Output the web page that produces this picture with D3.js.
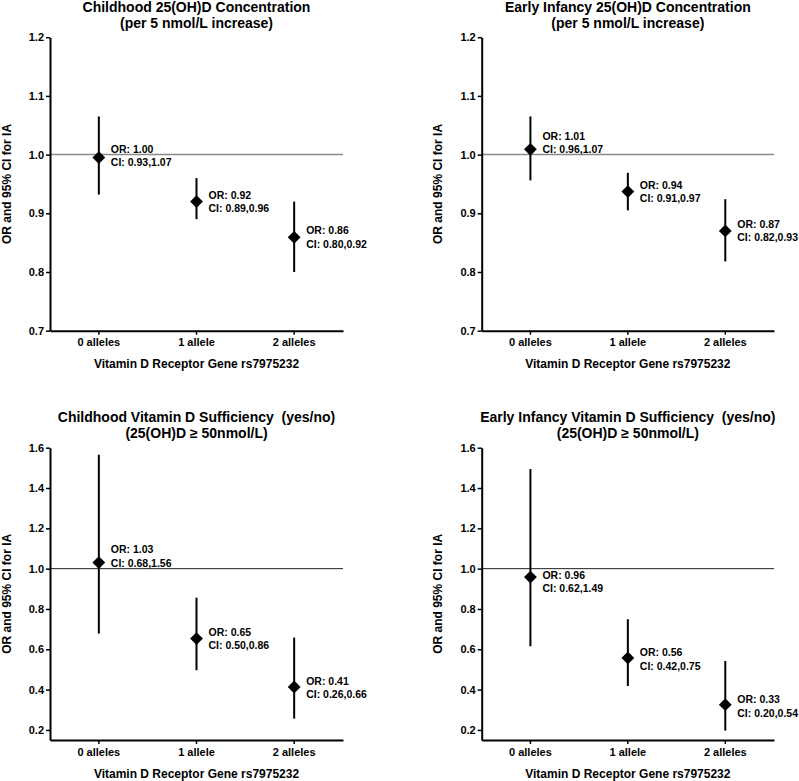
<!DOCTYPE html>
<html>
<head>
<meta charset="utf-8">
<script src="https://cdn.jsdelivr.net/npm/d3@7"></script>
<style>
  html, body { margin: 0; padding: 0; background: #fff; }
  svg { display: block; font-family: "Liberation Sans", Arial, sans-serif; }
</style>
</head>
<body>
<svg id="chart" width="799" height="781"></svg>
<script>
// ---------- data ----------
const categories = ["0 alleles", "1 allele", "2 alleles"];
const xAxisTitle = "Vitamin D Receptor Gene rs7975232";
const yAxisTitle = "OR and 95% CI for IA";

const titles = [
  ["Childhood 25(OH)D Concentration", "(per 5 nmol/L increase)"],
  ["Early Infancy 25(OH)D Concentration", "(per 5 nmol/L increase)"],
  ["Childhood Vitamin D Sufficiency  (yes/no)", "(25(OH)D \u2265 50nmol/L)"],
  ["Early Infancy Vitamin D Sufficiency  (yes/no)", "(25(OH)D \u2265 50nmol/L)"]
];

// point estimates and CI bounds as plotted
const orChildConc = [0.995, 0.920, 0.859];
const loChildConc = [0.932, 0.890, 0.800];
const hiChildConc = [1.065, 0.960, 0.920];

const orInfConc = [1.009, 0.937, 0.870];
const loInfConc = [0.956, 0.905, 0.818];
const hiInfConc = [1.065, 0.969, 0.924];

const orChildSuff = [1.030, 0.653, 0.413];
const loChildSuff = [0.678, 0.496, 0.256];
const hiChildSuff = [1.565, 0.856, 0.658];

const orInfSuff = [0.958, 0.557, 0.325];
const loInfSuff = [0.615, 0.418, 0.197];
const hiInfSuff = [1.494, 0.749, 0.542];

// annotation texts
const labelsChildConc = [["OR: 1.00", "CI: 0.93,1.07"], ["OR: 0.92", "CI: 0.89,0.96"], ["OR: 0.86", "CI: 0.80,0.92"]];
const labelsInfConc   = [["OR: 1.01", "CI: 0.96,1.07"], ["OR: 0.94", "CI: 0.91,0.97"], ["OR: 0.87", "CI: 0.82,0.93"]];
const labelsChildSuff = [["OR: 1.03", "CI: 0.68,1.56"], ["OR: 0.65", "CI: 0.50,0.86"], ["OR: 0.41", "CI: 0.26,0.66"]];
const labelsInfSuff   = [["OR: 0.96", "CI: 0.62,1.49"], ["OR: 0.56", "CI: 0.42,0.75"], ["OR: 0.33", "CI: 0.20,0.54"]];

// value at which each annotation block is centred
const labelAtChildConc = [0.998, 0.920, 0.859];
const labelAtInfConc   = [1.020, 0.937, 0.870];
const labelAtChildSuff = [1.061, 0.653, 0.410];
const labelAtInfSuff   = [0.935, 0.551, 0.318];

// y axis domains and ticks
const yDomainConc = [0.7, 1.2];
const yTicksConc = [0.7, 0.8, 0.9, 1.0, 1.1, 1.2];
const yDomainSuff = [0.15, 1.6];
const yTicksSuff = [0.2, 0.4, 0.6, 0.8, 1.0, 1.2, 1.4, 1.6];
const refValue = 1.0;

// ---------- layout ----------
const panels = [
  { x0: 50,    x1: 343, y0: 37.2,  y1: 330.7, title: titles[0], or: orChildConc, lo: loChildConc, hi: hiChildConc, labels: labelsChildConc, labelAt: labelAtChildConc, domain: yDomainConc, ticks: yTicksConc, refColor: "#8a8a8a", refWidth: 1.5 },
  { x0: 481.7, x1: 774, y0: 37.2,  y1: 330.7, title: titles[1], or: orInfConc,   lo: loInfConc,   hi: hiInfConc,   labels: labelsInfConc,   labelAt: labelAtInfConc,   domain: yDomainConc, ticks: yTicksConc, refColor: "#8a8a8a", refWidth: 1.5 },
  { x0: 50,    x1: 343, y0: 447.7, y1: 740,   title: titles[2], or: orChildSuff, lo: loChildSuff, hi: hiChildSuff, labels: labelsChildSuff, labelAt: labelAtChildSuff, domain: yDomainSuff, ticks: yTicksSuff, refColor: "#222", refWidth: 1 },
  { x0: 481.7, x1: 774, y0: 447.7, y1: 740,   title: titles[3], or: orInfSuff,   lo: loInfSuff,   hi: hiInfSuff,   labels: labelsInfSuff,   labelAt: labelAtInfSuff,   domain: yDomainSuff, ticks: yTicksSuff, refColor: "#222", refWidth: 1 }
];

const svg = d3.select("#chart");
const diamond = d3.symbol().type(d3.symbolSquare).size(82);

panels.forEach(p => {
  const g = svg.append("g");
  const x = d3.scaleBand().domain(categories).range([p.x0, p.x1]).padding(0);
  const y = d3.scaleLinear().domain(p.domain).range([p.y1, p.y0]);
  const cx = c => x(c) + x.bandwidth() / 2;

  // title
  const cxMid = (p.x0 + p.x1) / 2;
  const titleTop = p.y0 - 25.5;
  p.title.forEach((t, i) => {
    g.append("text")
      .attr("x", cxMid)
      .attr("y", titleTop + i * 16)
      .attr("text-anchor", "middle")
      .attr("font-size", "14px")
      .attr("font-weight", "bold")
      .attr("fill", "#000")
      .style("white-space", "pre")
      .text(t);
  });

  // reference line
  g.append("line")
    .attr("x1", p.x0).attr("x2", p.x1)
    .attr("y1", y(refValue)).attr("y2", y(refValue))
    .attr("stroke", p.refColor)
    .attr("stroke-width", p.refWidth);

  // y axis
  const yAxis = g.append("g")
    .attr("transform", `translate(${p.x0},0)`)
    .call(d3.axisLeft(y).tickValues(p.ticks).tickFormat(d3.format(".1f")).tickSize(4).tickPadding(2).tickSizeOuter(0));
  yAxis.select(".domain").attr("stroke", "#000").attr("stroke-width", 2);
  yAxis.selectAll(".tick line").attr("stroke", "#000").attr("stroke-width", 1.5);
  yAxis.selectAll(".tick text")
    .attr("font-size", "11px").attr("font-weight", "bold").attr("fill", "#000")
    .attr("font-family", "Liberation Sans, Arial, sans-serif");

  // x axis
  const xAxis = g.append("g")
    .attr("transform", `translate(0,${p.y1})`)
    .call(d3.axisBottom(x).tickSize(4).tickPadding(4).tickSizeOuter(0));
  xAxis.select(".domain").attr("stroke", "#000").attr("stroke-width", 2);
  xAxis.selectAll(".tick line").attr("stroke", "#000").attr("stroke-width", 1.5);
  xAxis.selectAll(".tick text")
    .attr("font-size", "11px").attr("font-weight", "bold").attr("fill", "#000")
    .attr("font-family", "Liberation Sans, Arial, sans-serif");

  // axis titles
  g.append("text")
    .attr("x", cxMid)
    .attr("y", p.y1 + 37.5)
    .attr("text-anchor", "middle")
    .attr("font-size", "12px")
    .attr("font-weight", "bold")
    .attr("fill", "#000")
    .text(xAxisTitle);

  g.append("text")
    .attr("transform", `translate(${p.x0 - 39.5},${(p.y0 + p.y1) / 2}) rotate(-90)`)
    .attr("text-anchor", "middle")
    .attr("font-size", "12px")
    .attr("font-weight", "bold")
    .attr("fill", "#000")
    .text(yAxisTitle);

  // whiskers
  g.selectAll(".ci")
    .data(categories)
    .join("line")
    .attr("x1", cx).attr("x2", cx)
    .attr("y1", (c, i) => y(p.lo[i]))
    .attr("y2", (c, i) => y(p.hi[i]))
    .attr("stroke", "#000")
    .attr("stroke-width", 2);

  // diamonds
  g.selectAll(".pt")
    .data(categories)
    .join("path")
    .attr("d", diamond)
    .attr("transform", (c, i) => `translate(${cx(c)},${y(p.or[i])}) rotate(45)`)
    .attr("fill", "#000");

  // annotations
  categories.forEach((c, i) => {
    const yc = y(p.labelAt[i]);
    p.labels[i].forEach((t, j) => {
      g.append("text")
        .attr("x", cx(c) + 12)
        .attr("y", yc + (j === 0 ? -6.7 : 6.7))
        .attr("dy", "0.35em")
        .attr("font-size", "10.5px")
        .attr("font-weight", "bold")
        .attr("fill", "#000")
        .text(t);
    });
  });
});
</script>
</body>
</html>
